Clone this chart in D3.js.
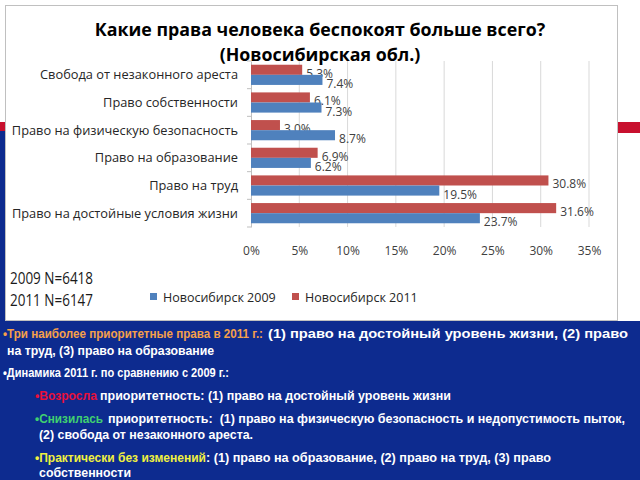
<!DOCTYPE html>
<html><head><meta charset="utf-8">
<script src="https://cdn.jsdelivr.net/npm/d3@7"></script>
<style>body{margin:0;background:#fff}svg{display:block}</style>
</head><body>
<script>
const categories = ["Свобода от незаконного ареста","Право собственности","Право на физическую безопасность","Право на образование","Право на труд","Право на достойные условия жизни"];
const series = ["Новосибирск 2011","Новосибирск 2009"];
const values2011 = [5.3, 6.1, 3.0, 6.9, 30.8, 31.6];
const values2009 = [7.4, 7.3, 8.7, 6.2, 19.5, 23.7];
const xTicks = [0,5,10,15,20,25,30,35];
const legendOrder = ["Новосибирск 2009","Новосибирск 2011"];
const colors = {"Новосибирск 2009":"#4f81bd","Новосибирск 2011":"#c0504d"};
const titleLines = ["Какие права человека беспокоят больше всего?","(Новосибирская обл.)"];
const sampleNotes = ["2009 N=6418","2011 N=6147"];

const W=640,H=480;
const svg=d3.select("body").append("svg").attr("width",W).attr("height",H);
const chartFont="'Open Sans', 'Noto Sans', sans-serif";

// slide background
svg.append("rect").attr("width",W).attr("height",H).attr("fill","#fff");
svg.append("rect").attr("x",0).attr("y",122).attr("width",W).attr("height",11).attr("fill","#c8102e");
svg.append("rect").attr("x",0).attr("y",131).attr("width",6).attr("height",H-131).attr("fill","#0d2b8f");
svg.append("rect").attr("x",0).attr("y",321).attr("width",W).attr("height",H-321).attr("fill","#0d2b8f");
// chart box
svg.append("rect").attr("x",5.5).attr("y",5.5).attr("width",612).attr("height",315).attr("fill","#fff").attr("stroke","#c0c0c0");

// title
svg.selectAll("text.title").data(titleLines).join("text").attr("class","title")
  .attr("x",320).attr("y",(d,i)=>36+i*25).attr("text-anchor","middle")
  .attr("font-family",chartFont).attr("font-weight","bold").attr("font-size",17.8).attr("fill","#000")
  .text(d=>d);

const x=d3.scaleLinear().domain([0,35]).range([251,589]);
const y=d3.scaleBand().domain(categories).range([61,227]);
const ys=d3.scaleBand().domain(series).range([0,y.bandwidth()]).paddingOuter(0.37).paddingInner(0);

// gridlines
svg.append("g").selectAll("line").data(xTicks.slice(1)).join("line")
  .attr("x1",d=>x(d)).attr("x2",d=>x(d)).attr("y1",61).attr("y2",227)
  .attr("stroke","#d9d9d9").attr("stroke-width",1);

// x axis labels
const xAxis=d3.axisBottom(x).tickValues(xTicks).tickFormat(d=>d+"%").tickSize(0).tickPadding(0);
const xa=svg.append("g").attr("transform","translate(0,255)").call(xAxis);
xa.select(".domain").remove();
xa.selectAll("text").attr("font-family",chartFont).attr("font-size",12).attr("fill","#404040").attr("dy",0);

// y axis
const yAxis=d3.axisLeft(y).tickSize(0).tickPadding(13);
const ya=svg.append("g").attr("transform","translate(251,0)").call(yAxis);
ya.select(".domain").attr("stroke","#bfbfbf");
ya.selectAll("text").attr("font-family",chartFont).attr("font-size",12.8).attr("fill","#262626").attr("dy","0.35em");
svg.selectAll("line.ytick").data(d3.range(categories.length+1)).join("line").attr("class","ytick")
  .attr("x1",247).attr("x2",251).attr("y1",i=>61+i*y.step()).attr("y2",i=>61+i*y.step())
  .attr("stroke","#bfbfbf");

function drawSeries(name,vals){
  const gs=svg.append("g");
  gs.selectAll("rect").data(vals).join("rect")
    .attr("x",x(0)).attr("y",(d,i)=>y(categories[i])+ys(name))
    .attr("width",d=>x(d)-x(0)).attr("height",ys.bandwidth()).attr("fill",colors[name]);
  gs.selectAll("text").data(vals).join("text")
    .attr("x",d=>x(d)+4).attr("y",(d,i)=>y(categories[i])+ys(name)+ys.bandwidth()/2+8)
    .attr("font-family",chartFont).attr("font-size",12).attr("fill","#404040")
    .text(d=>d.toFixed(1)+"%");
}
drawSeries("Новосибирск 2011",values2011);
drawSeries("Новосибирск 2009",values2009);

// legend
const legX=[150,292];
legendOrder.forEach((s,i)=>{
  svg.append("rect").attr("x",legX[i]).attr("y",293).attr("width",7).attr("height",7).attr("fill",colors[s]);
  svg.append("text").attr("x",legX[i]+13).attr("y",301.5).attr("font-family",chartFont).attr("font-size",12.5).attr("fill","#262626").text(s);
});

// sample notes
svg.selectAll("text.note").data(sampleNotes).join("text").attr("class","note")
  .attr("x",10).attr("y",(d,i)=>284+i*22).attr("font-family",chartFont).attr("font-size",15.5)
  .attr("textLength",83).attr("lengthAdjust","spacingAndGlyphs").attr("fill","#1a1a1a").text(d=>d);

// bottom text: [text, color, size, x0, x1]
const bf="'Liberation Sans Narrow','Arial Narrow','Liberation Sans',sans-serif";
const lines=[
  {y:338,parts:[["•Три наиболее приоритетные права в 2011 г.:",'#f5a04a',13.5,3,263],["(1) право на достойный уровень жизни, (2) право","#fff",13,268,628]]},
  {y:355,parts:[["на труд, (3) право на образование","#fff",13,7,214]]},
  {y:377,parts:[["•Динамика 2011 г. по сравнению с 2009 г.:","#fff",13,3,229]]},
  {y:400,parts:[["•Возросла",'#e8103a',13,35,97],["приоритетность: (1) право на достойный уровень жизни","#fff",13,100,451]]},
  {y:423,parts:[["•Снизилась",'#40d070',13,35,103],["приоритетность:  (1) право на физическую безопасность и недопустимость пыток,","#fff",12.5,108,625]]},
  {y:439,parts:[["(2) свобода от незаконного ареста.","#fff",13,39,253]]},
  {y:462,parts:[["•Практически без изменений",'#f0f040',13,35,206],[": (1) право на образование, (2) право на труд, (3) право","#fff",13,206,551]]},
  {y:477,parts:[["собственности","#fff",13,39,131]]}
];
lines.forEach(l=>{
  l.parts.forEach(p=>{
    svg.append("text").attr("x",p[3]).attr("y",l.y).attr("font-family",bf).attr("font-weight","bold")
      .attr("font-size",p[2]).attr("fill",p[1]).attr("xml:space","preserve")
      .attr("textLength",p[4]-p[3]).attr("lengthAdjust","spacingAndGlyphs").text(p[0]);
  });
});
</script>
</body></html>
